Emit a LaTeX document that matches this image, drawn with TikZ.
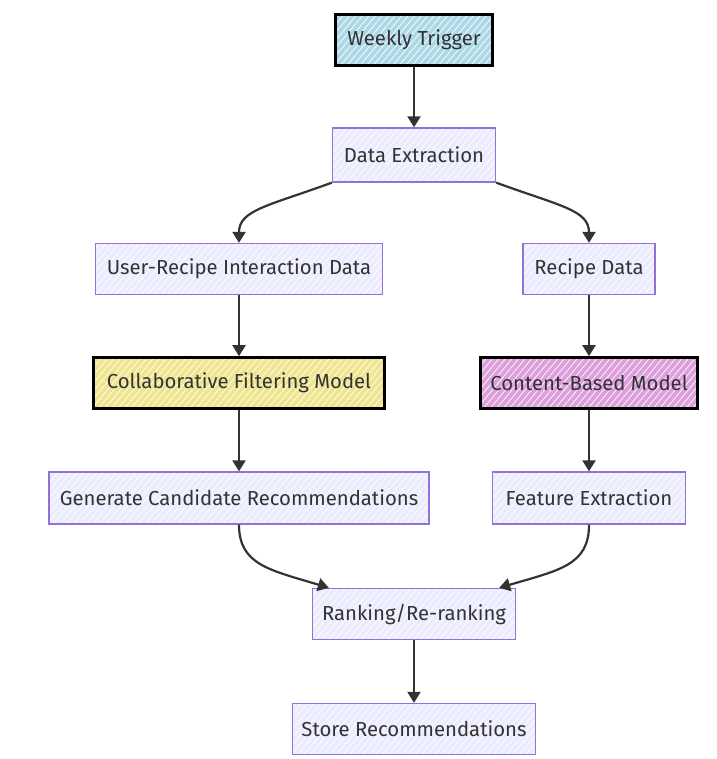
\documentclass[tikz,border=0pt]{standalone}
\usepackage{fontspec}
\setmainfont{Fira Sans}
\usetikzlibrary{arrows.meta,patterns.meta}

\definecolor{ink}{HTML}{333333}
\definecolor{boxfill}{HTML}{ECECFF}
\definecolor{boxline}{HTML}{9370DB}
\definecolor{triggerfill}{HTML}{ADD8E6}
\definecolor{collabfill}{HTML}{EEE58D}
\definecolor{contentfill}{HTML}{DDA0DD}

\tikzset{
    step box/.style={draw=boxline, line width=1.3pt, text=ink, inner sep=0pt,
        preaction={fill=#1},
        preaction={pattern={Lines[angle=50,distance=5pt,line width=0.7pt]}, pattern color=white},
        minimum height=51pt, font=\fontsize{20.3}{23}\selectfont},
    step box/.default=boxfill,
    model box/.style={step box=#1, draw=black, line width=2.6pt},
    flow/.style={draw=ink, line width=2.2pt, -{Triangle[width=13pt,length=11pt]}}
}

\begin{document}
\begin{tikzpicture}[x=1pt, y=-1pt]
        \useasboundingbox (0,0) rectangle (716,759);

        \node[model box=triggerfill, minimum width=157pt] (trigger) at (414, 40) {Weekly Trigger};
        \node[step box, minimum width=163pt, minimum height=54pt] (extract) at (414, 155) {Data Extraction};

        \node[step box, minimum width=287pt] (interact) at (239, 269) {User-Recipe Interaction Data};
        \node[step box, minimum width=132pt] (recipe) at (589, 269) {Recipe Data};

        \node[model box=collabfill, minimum width=291pt] (collab) at (239, 383) {Collaborative Filtering Model};
        \node[model box=contentfill, minimum width=217pt] (content) at (589, 383) {Content-Based Model};

        \node[step box, minimum width=380pt, minimum height=52pt] (candidates) at (239, 498) {Generate Candidate Recommendations};
        \node[step box, minimum width=193pt, minimum height=52pt] (features) at (589, 498) {Feature Extraction};

        \node[step box, minimum width=203pt] (ranking) at (414, 614) {Ranking/Re-ranking};
        \node[step box, minimum width=243pt] (store) at (414, 729) {Store Recommendations};

        \draw[flow] (trigger) -- (extract);
        \draw[flow] (extract.south west) .. controls (268, 206) and (239, 210) .. (interact.north);
        \draw[flow] (extract.south east) .. controls (560, 206) and (589, 210) .. (recipe.north);

        \draw[flow] (interact) -- (collab);
        \draw[flow] (recipe) -- (content);
        \draw[flow] (collab) -- (candidates);
        \draw[flow] (content) -- (features);

        \draw[flow] (candidates.south) .. controls (239, 565) and (270, 570) .. ([xshift=17pt]ranking.north west);
        \draw[flow] (features.south) .. controls (589, 565) and (560, 570) .. ([xshift=-17pt]ranking.north east);

        \draw[flow] (ranking) -- (store);
\end{tikzpicture}
\end{document}
